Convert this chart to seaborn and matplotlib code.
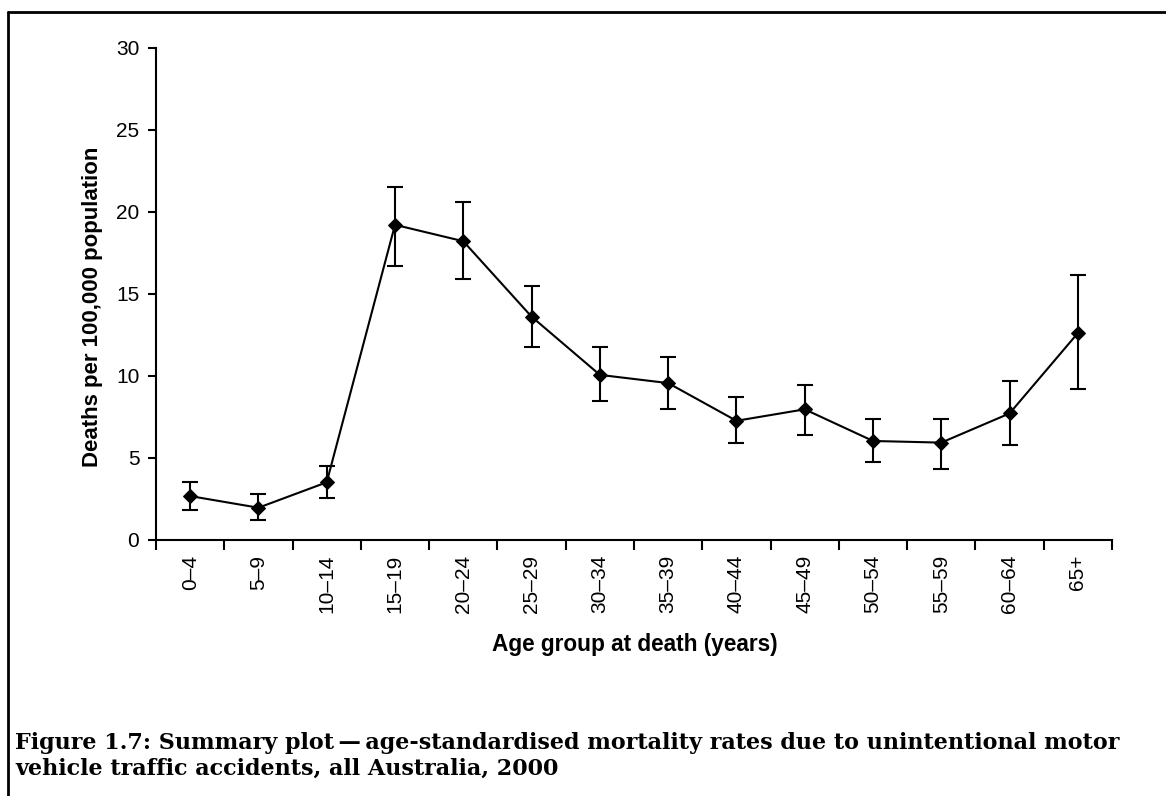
import matplotlib
matplotlib.use("Agg")
import matplotlib.pyplot as plt
from matplotlib.lines import Line2D
import seaborn as sns
import pandas as pd

age_groups = ["0\u20134", "5\u20139", "10\u201314", "15\u201319", "20\u201324", "25\u201329", "30\u201334",
              "35\u201339", "40\u201344", "45\u201349", "50\u201354", "55\u201359", "60\u201364", "65+"]
rates = [2.66, 1.95, 3.5, 19.2, 18.2, 13.6, 10.05, 9.55, 7.25, 7.95, 6.02, 5.92, 7.7, 12.6]
upper = [3.5, 2.8, 4.5, 21.5, 20.6, 15.5, 11.75, 11.15, 8.7, 9.45, 7.35, 7.35, 9.7, 16.15]
lower = [1.83, 1.2, 2.55, 16.7, 15.9, 11.75, 8.45, 7.95, 5.9, 6.4, 4.72, 4.32, 5.78, 9.2]

x_label = "Age group at death (years)"
y_label = "Deaths per 100,000 population"
caption = ("Figure 1.7: Summary plot\u2009\u2014\u2009age-standardised mortality rates due to unintentional motor\n"
           "vehicle traffic accidents, all Australia, 2000")

sns.set_style("white")
plt.rcParams["font.family"] = ["Liberation Sans", "DejaVu Sans"]
plt.rcParams["text.color"] = "black"
plt.rcParams["axes.labelcolor"] = "black"
plt.rcParams["xtick.color"] = "black"
plt.rcParams["ytick.color"] = "black"

df = pd.DataFrame({"age": age_groups, "rate": rates, "lo": lower, "hi": upper})

fig = plt.figure(figsize=(11.66, 7.96), dpi=100)
ax = fig.add_axes([156 / 1166, 1 - 539.7 / 796, (1112 - 156) / 1166, (539.7 - 47.7) / 796])

yerr = [df["rate"] - df["lo"], df["hi"] - df["rate"]]
ax.errorbar(df["age"], df["rate"], yerr=yerr, fmt="none", ecolor="black",
            elinewidth=1.5, capsize=6, capthick=1.5, zorder=2)
sns.lineplot(data=df, x="age", y="rate", ax=ax, color="black", linewidth=1.5,
             marker="D", markersize=7, markeredgecolor="black", markerfacecolor="black",
             sort=False, zorder=3)

n = len(age_groups)
ax.set_xlim(-0.5, n - 0.5)
ax.set_ylim(0, 30)
ax.set_yticks([0, 5, 10, 15, 20, 25, 30])

ax.set_xticks(range(n))
ax.set_xticklabels(age_groups, rotation=90, fontsize=15)
ax.set_xticks([i - 0.5 for i in range(n + 1)], minor=True)
ax.tick_params(axis="x", which="major", length=0, pad=11)
ax.tick_params(axis="x", which="minor", length=7, width=1.5, direction="out", color="black")
ax.tick_params(axis="y", which="major", length=6, width=1.5, direction="out", color="black",
               labelsize=15, pad=6)
ax.tick_params(left=True, bottom=True, which="both")

for side in ["top", "right"]:
    ax.spines[side].set_visible(False)
for side in ["left", "bottom"]:
    ax.spines[side].set_linewidth(1.5)
    ax.spines[side].set_color("black")

ax.set_xlabel(x_label, fontsize=16.3, fontweight="bold")
ax.set_ylabel(y_label, fontsize=16, fontweight="bold")
ax.xaxis.label.set_va("center")
ax.yaxis.label.set_va("center")
ax.xaxis.set_label_coords((635 - 156) / 956, (539.7 - 644) / 492)
ax.yaxis.set_label_coords((92.5 - 156) / 956, (539.7 - 307) / 492)

# Figure border (left and top)
fig.add_artist(Line2D([8 / 1166, 8 / 1166], [0, 1 - 12 / 796], transform=fig.transFigure,
                      color="black", linewidth=2))
fig.add_artist(Line2D([8 / 1166, 1], [1 - 12 / 796, 1 - 12 / 796], transform=fig.transFigure,
                      color="black", linewidth=2))

fig.text(15 / 1166, 1 - 732 / 796, caption, fontsize=16, fontweight="bold",
         family=["DejaVu Serif"], va="top", ha="left", linespacing=1.22)

fig.savefig("out.png", dpi=100)
